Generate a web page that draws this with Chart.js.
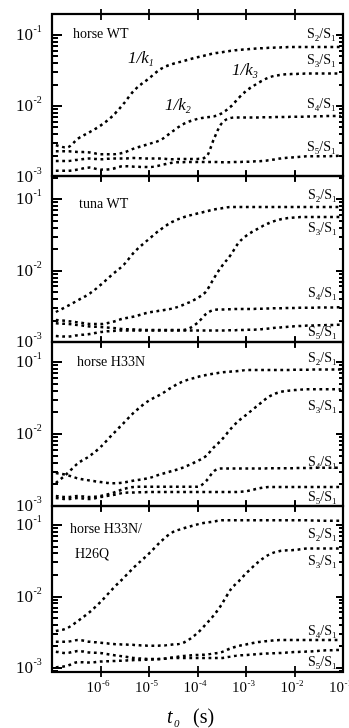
<!DOCTYPE html>
<html>
<head>
<meta charset="utf-8">
<script src="https://cdn.jsdelivr.net/npm/chart.js@4/dist/chart.umd.min.js"></script>
<style>
  html, body { margin: 0; padding: 0; background: #fff; }
  #wrap { position: relative; width: 349px; height: 728px; }
  #wrap canvas { position: absolute; left: 0; top: 0; }
</style>
</head>
<body>
<div id="wrap">
  <canvas id="p1" width="349" height="728"></canvas>
  <canvas id="p2" width="349" height="728"></canvas>
  <canvas id="p3" width="349" height="728"></canvas>
  <canvas id="p4" width="349" height="728"></canvas>
</div>
<script>
// t0 in seconds (shared by all series)
const times = [1.2e-7, 2e-7, 3.5e-7, 6e-7, 1e-6, 1.8e-6, 3e-6, 5e-6, 1e-5, 1.8e-5, 3e-5, 5e-5,
  1e-4, 1.5e-4, 2.2e-4, 3e-4, 5e-4, 7e-4, 1e-3, 1.8e-3, 3e-3, 5e-3, 1e-2, 2e-2, 4e-2, 9e-2];

// ratios in units of 1e-3
const horseWT_s2 = [2.8, 2.6, 3.5, 4.3, 5.3, 7.3, 10.8, 16.7, 24.5, 33.7, 39, 42.8, 48.7, 51.9, 55.3, 57.1, 60, 61.9, 63, 64.9, 66, 67, 68, 68, 68, 68];
const horseWT_s3 = [2.3, 2.3, 2.25, 2.22, 2.09, 2.09, 2.2, 2.53, 2.92, 3.37, 4.36, 5.53, 6.6, 6.92, 7.15, 7.74, 10, 12.9, 16.2, 21.2, 25.3, 27.4, 28.3, 28.7, 28.7, 28.7];
const horseWT_s4 = [1.68, 1.68, 1.76, 1.82, 1.78, 1.82, 1.82, 1.85, 1.82, 1.82, 1.78, 1.8, 1.8, 1.91, 3.48, 5.45, 6.81, 6.92, 6.92, 6.92, 6.95, 7.0, 7.05, 7.1, 7.2, 7.26];
const horseWT_s5 = [1.22, 1.22, 1.28, 1.36, 1.27, 1.31, 1.42, 1.40, 1.38, 1.47, 1.59, 1.62, 1.63, 1.63, 1.63, 1.62, 1.62, 1.63, 1.64, 1.67, 1.72, 1.82, 1.9, 1.96, 1.96, 1.99];

const tunaWT_s2 = [2.63, 3.14, 3.87, 4.78, 6.28, 8.96, 12, 18.2, 27.7, 38.3, 48, 55.4, 63, 67.3, 71.7, 74.1, 77.8, 77.8, 77.8, 77.8, 77.8, 77.8, 77.8, 77.8, 77.8, 77.8];
const tunaWT_s3 = [2.03, 1.97, 1.88, 1.79, 1.78, 1.92, 2.13, 2.28, 2.59, 2.76, 2.94, 3.3, 4.13, 5.1, 7.88, 10.9, 17.1, 24.4, 30.5, 38.9, 46.4, 52, 55.4, 56.3, 56.3, 56.3];
const tunaWT_s4 = [1.83, 1.79, 1.73, 1.65, 1.62, 1.57, 1.52, 1.5, 1.47, 1.47, 1.47, 1.47, 1.85, 2.47, 2.81, 2.85, 2.88, 2.9, 2.9, 2.92, 2.95, 2.97, 3.0, 3.02, 3.04, 3.06];
const tunaWT_s5 = [1.21, 1.19, 1.25, 1.29, 1.38, 1.43, 1.45, 1.45, 1.45, 1.45, 1.45, 1.45, 1.45, 1.45, 1.45, 1.45, 1.46, 1.47, 1.48, 1.5, 1.55, 1.6, 1.66, 1.7, 1.72, 1.75];

const h33n_s2 = [2.09, 2.78, 3.96, 4.95, 6.6, 10, 14.2, 20.2, 29.2, 35.9, 45, 53.6, 61.9, 66, 69.2, 71.5, 73.8, 75, 77.4, 77.4, 77.4, 77.4, 78, 78.5, 79, 79];
const h33n_s3 = [2.87, 2.7, 2.41, 2.26, 2.15, 2.07, 2.12, 2.26, 2.45, 2.78, 3.06, 3.42, 4.22, 4.95, 6.6, 8.0, 12.1, 15.2, 18.4, 25.3, 33.2, 38.3, 40.8, 41.8, 41.8, 41.8];
const h33n_s4 = [1.38, 1.33, 1.38, 1.33, 1.38, 1.52, 1.72, 1.84, 1.85, 1.85, 1.85, 1.85, 1.85, 2.22, 3.06, 3.32, 3.32, 3.32, 3.32, 3.32, 3.34, 3.35, 3.36, 3.38, 3.4, 3.4];
const h33n_s5 = [1.29, 1.25, 1.29, 1.25, 1.33, 1.42, 1.52, 1.54, 1.56, 1.56, 1.56, 1.56, 1.56, 1.56, 1.56, 1.56, 1.56, 1.57, 1.6, 1.75, 1.84, 1.84, 1.84, 1.84, 1.84, 1.84];

const h33nh26q_s2 = [3.29, 3.57, 4.6, 6.07, 8.38, 12.9, 18.2, 25.9, 39.9, 59.7, 78.5, 89.3, 102, 108, 112, 116, 117, 117, 117, 117, 117, 117, 117, 116, 115, 115];
const h33nh26q_s3 = [2.33, 2.33, 2.46, 2.33, 2.26, 2.17, 2.13, 2.1, 2.05, 2.06, 2.13, 2.24, 3.09, 4.12, 5.51, 7.36, 12.9, 16.2, 21, 30.4, 38.7, 43.3, 44.7, 46.9, 46.9, 46.9];
const h33nh26q_s4 = [1.69, 1.62, 1.73, 1.65, 1.62, 1.52, 1.45, 1.38, 1.34, 1.34, 1.40, 1.47, 1.52, 1.54, 1.6, 1.65, 1.9, 2.03, 2.13, 2.31, 2.39, 2.46, 2.46, 2.46, 2.46, 2.46];
const h33nh26q_s5 = [1.02, 1.07, 1.21, 1.19, 1.23, 1.25, 1.27, 1.29, 1.31, 1.34, 1.38, 1.38, 1.38, 1.38, 1.38, 1.38, 1.45, 1.5, 1.52, 1.57, 1.6, 1.62, 1.67, 1.7, 1.76, 1.79];

const xTickExps = [-6, -5, -4, -3, -2, -1];
const yTickExps = [-1, -2, -3];

const serif = '"Liberation Serif", "Times New Roman", serif';

// panel layout (pixel boxes and label spots)
const panels = [
  { id: 'p1', top: 14, bottom: 176, ymin: 1.033e-3, ymax: 0.198,
    series: [horseWT_s2, horseWT_s3, horseWT_s4, horseWT_s5],
    name: [['horse WT', 73, 38]],
    ratios: [[2, 307, 38], [3, 307, 64], [4, 307, 108], [5, 307, 151]],
    ks: [[1, 128, 63], [2, 165, 110], [3, 232, 75]] },
  { id: 'p2', top: 176, bottom: 342, ymin: 1e-3, ymax: 0.211,
    series: [tunaWT_s2, tunaWT_s3, tunaWT_s4, tunaWT_s5],
    name: [['tuna WT', 79, 208]],
    ratios: [[2, 308, 199], [3, 308, 232], [4, 308, 297], [5, 308, 336]], ks: [] },
  { id: 'p3', top: 342, bottom: 506, ymin: 1e-3, ymax: 0.19,
    series: [h33n_s2, h33n_s3, h33n_s4, h33n_s5],
    name: [['horse H33N', 77, 366]],
    ratios: [[2, 308, 362], [3, 308, 410], [4, 308, 466], [5, 308, 501]], ks: [] },
  { id: 'p4', top: 506, bottom: 672, ymin: 0.879e-3, ymax: 0.1845,
    series: [h33nh26q_s2, h33nh26q_s3, h33nh26q_s4, h33nh26q_s5],
    name: [['horse H33N/', 70, 533], ['H26Q', 75, 558]],
    ratios: [[2, 308, 538], [3, 308, 565], [4, 308, 635], [5, 308, 666]], ks: [],
    bottomAxis: true }
];

function pow10(ctx, exp, x, y, big, small, rise) {
  ctx.font = big + 'px ' + serif;
  ctx.fillText('10', x, y);
  const w = ctx.measureText('10').width;
  ctx.font = small + 'px ' + serif;
  ctx.fillText('-' + (-exp), x + w + 0.5, y - rise);
}

function ratioLabel(ctx, n, x, y) {
  let cx = x;
  const part = (t, size, dy) => {
    ctx.font = size + 'px ' + serif;
    ctx.fillText(t, cx, y + dy);
    cx += ctx.measureText(t).width;
  };
  part('S', 14, 0); part(String(n), 9, 3); part('/', 14, 0); part('S', 14, 0); part('1', 9, 3);
}

function kLabel(ctx, n, x, y) {
  ctx.font = 'italic 17px ' + serif;
  ctx.fillText('1/k', x, y);
  const w = ctx.measureText('1/k').width;
  ctx.font = 'italic 10px ' + serif;
  ctx.fillText(String(n), x + w, y + 3);
}

const framePlugin = {
  id: 'frame',
  afterDraw(chart, args, opts) {
    const { ctx, chartArea: a, scales } = chart;
    const xs = scales.x, ys = scales.y;
    const p = opts.panel;
    ctx.save();
    ctx.strokeStyle = '#000';
    ctx.fillStyle = '#000';
    ctx.lineWidth = 1.8;
    ctx.beginPath();
    for (let d = -4; d <= 0; d++) {
      for (let m = 1; m <= 9; m++) {
        const v = m * Math.pow(10, d);
        if (v < ys.min || v > ys.max) continue;
        const py = Math.round(ys.getPixelForValue(v));
        const major = m === 1;
        ctx.moveTo(a.left, py); ctx.lineTo(a.left + (major ? 10 : 6), py);
        ctx.moveTo(a.right, py); ctx.lineTo(a.right - (major ? 7 : 4), py);
      }
    }
    xTickExps.slice(0, 5).forEach(e => {
      const px = Math.round(xs.getPixelForValue(Math.pow(10, e)));
      ctx.moveTo(px, a.top - 5); ctx.lineTo(px, a.top + 6);
      ctx.moveTo(px, a.bottom - 6); ctx.lineTo(px, a.bottom + 5);
    });
    ctx.stroke();
    ctx.lineWidth = 2.2;
    ctx.strokeRect(a.left, a.top, a.right - a.left, a.bottom - a.top);

    ctx.textBaseline = 'alphabetic';
    ctx.textAlign = 'left';
    yTickExps.forEach(e => {
      const py = ys.getPixelForValue(Math.pow(10, e));
      pow10(ctx, e, 16, py + 5, 17, 10, 8);
    });
    p.name.forEach(([t, x, y]) => {
      ctx.font = '14px ' + serif;
      ctx.fillText(t, x, y);
    });
    p.ratios.forEach(([n, x, y]) => ratioLabel(ctx, n, x, y));
    p.ks.forEach(([n, x, y]) => kLabel(ctx, n, x, y));

    if (p.bottomAxis) {
      xTickExps.forEach(e => {
        const px = xs.getPixelForValue(Math.pow(10, e));
        pow10(ctx, e, px - 14, 692, 15, 9, 6);
      });
      ctx.font = 'italic 20px ' + serif;
      ctx.fillText('t', 167, 723);
      ctx.font = 'italic 11px ' + serif;
      ctx.fillText('0', 174, 727);
      ctx.font = '20px ' + serif;
      ctx.fillText('(s)', 193, 723);
    }
    ctx.restore();
  }
};

panels.forEach(p => {
  const datasets = p.series.map(vals => ({
    data: times.map((t, i) => ({ x: t, y: vals[i] * 1e-3 })),
    borderColor: '#000',
    borderWidth: 2.5,
    borderDash: [2.8, 3.6],
    borderCapStyle: 'butt',
    pointRadius: 0,
    cubicInterpolationMode: 'monotone',
    fill: false
  }));
  new Chart(document.getElementById(p.id).getContext('2d'), {
    type: 'line',
    data: { datasets },
    options: {
      responsive: false,
      animation: false,
      devicePixelRatio: 1,
      events: [],
      layout: { padding: { left: 52, right: 6, top: p.top, bottom: 728 - p.bottom } },
      plugins: {
        legend: { display: false },
        tooltip: { enabled: false },
        frame: { panel: p }
      },
      scales: {
        x: { type: 'logarithmic', min: 1e-7, max: 1e-1, display: false },
        y: { type: 'logarithmic', min: p.ymin, max: p.ymax, display: false }
      }
    },
    plugins: [framePlugin]
  });
});
</script>
</body>
</html>
